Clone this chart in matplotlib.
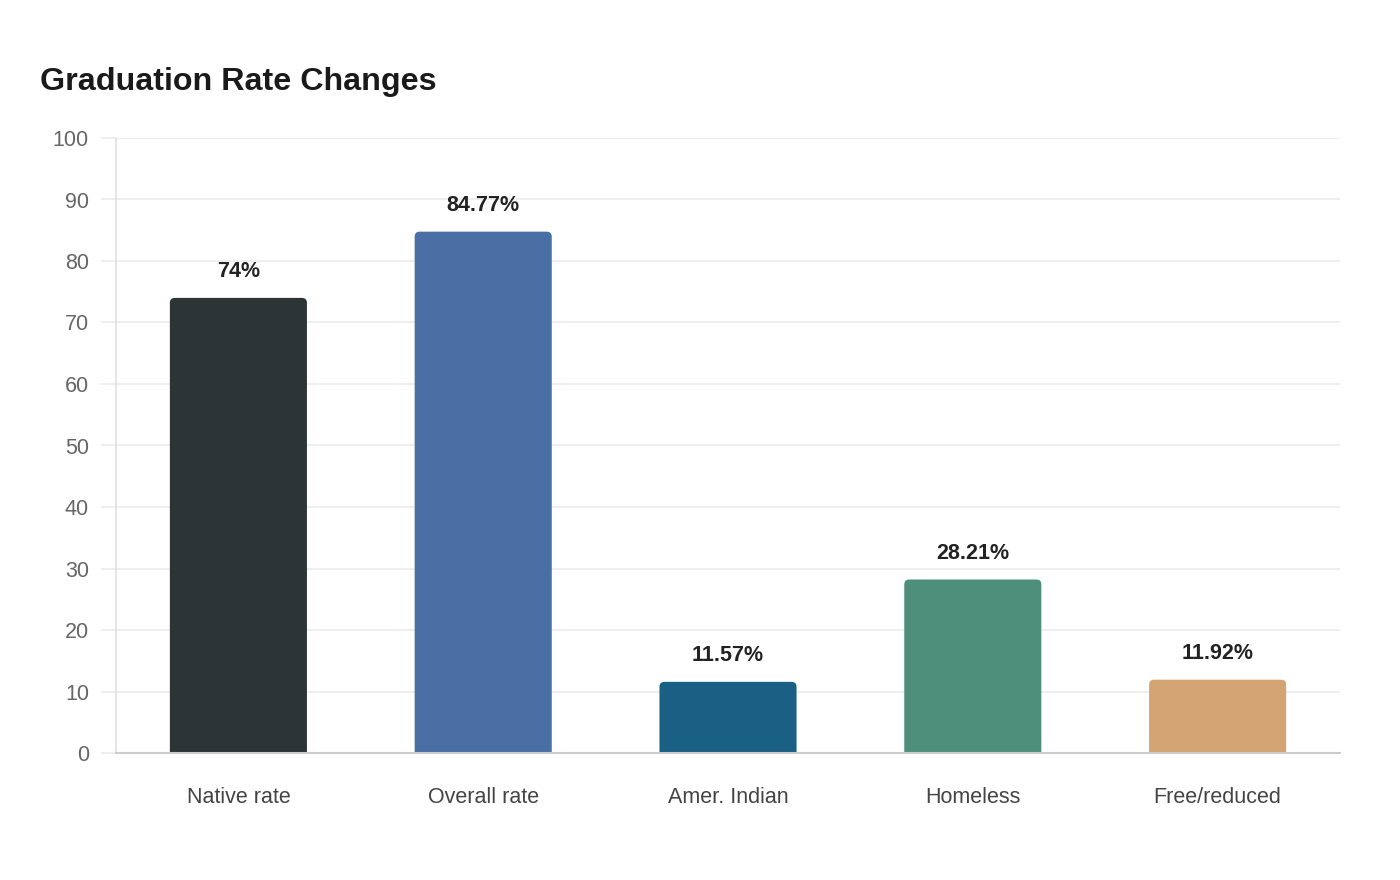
import matplotlib
matplotlib.use("Agg")
import matplotlib.pyplot as plt
from matplotlib.path import Path
from matplotlib.patches import PathPatch

categories = ["Native rate", "Overall rate", "Amer. Indian", "Homeless", "Free/reduced"]
values = [74, 84.77, 11.57, 28.21, 11.92]
value_labels = ["74%", "84.77%", "11.57%", "28.21%", "11.92%"]
colors = ["#2d3436", "#4a6fa5", "#1a5f84", "#4e8f7b", "#d4a574"]
yticks = [0, 10, 20, 30, 40, 50, 60, 70, 80, 90, 100]

plt.rcParams['font.family'] = ['Liberation Sans', 'DejaVu Sans']

fig = plt.figure(figsize=(14, 8.8), dpi=100)
ax = fig.add_axes([116/1400, 1-753/880, (1340-116)/1400, (753-138)/880])

x = list(range(len(categories)))
bars = ax.bar(x, values, width=0.56, color=colors, zorder=3)
ax.set_xlim(-0.5, len(categories)-0.5)
ax.set_ylim(0, 100)

# rounded top corners
fig.canvas.draw()
rpx = 5
inv = ax.transData.inverted()
p0 = inv.transform((0, 0)); p1 = inv.transform((rpx, rpx))
rx, ry = p1[0]-p0[0], p1[1]-p0[1]
for b, c in zip(bars, colors):
    b.set_visible(False)
    x0 = b.get_x(); w = b.get_width(); h = b.get_height()
    x1 = x0 + w
    verts = [(x0, 0), (x0, h-ry), (x0, h), (x0+rx, h), (x1-rx, h), (x1, h), (x1, h-ry), (x1, 0), (x0, 0)]
    codes = [Path.MOVETO, Path.LINETO, Path.CURVE3, Path.CURVE3, Path.LINETO, Path.CURVE3, Path.CURVE3, Path.LINETO, Path.CLOSEPOLY]
    ax.add_patch(PathPatch(Path(verts, codes), facecolor=c, edgecolor='none', zorder=3))

for xi, v, lab in zip(x, values, value_labels):
    ax.annotate(lab, (xi, v), xytext=(0, 19), textcoords='offset points',
                ha='center', va='center', fontsize=15.5, fontweight='bold', color='#222222', zorder=4)

ax.set_yticks(yticks)
ax.set_xticks(x)
ax.set_xticklabels(categories)
ax.grid(axis='y', color='#ebebeb', linewidth=1.2, zorder=0)
ax.tick_params(axis='y', length=11, color='#ebebeb', width=1.2, pad=8.5, labelsize=15.5, labelcolor='#666666')
ax.tick_params(axis='x', length=0, pad=24.5, labelsize=15.5, labelcolor='#444444')
for s in ['top', 'right']:
    ax.spines[s].set_visible(False)
ax.spines['left'].set_color('#e0e0e0')
ax.spines['left'].set_linewidth(1.2)
ax.spines['bottom'].set_color('#cccccc')
ax.spines['bottom'].set_linewidth(1.5)
ax.spines['bottom'].set_zorder(4)

fig.text(40/1400, 1-82/880, "Graduation Rate Changes", fontsize=23.2, fontweight='bold',
         color='#1a1a1a', ha='left', va='center')

fig.savefig("out.png", dpi=100, facecolor='white')
